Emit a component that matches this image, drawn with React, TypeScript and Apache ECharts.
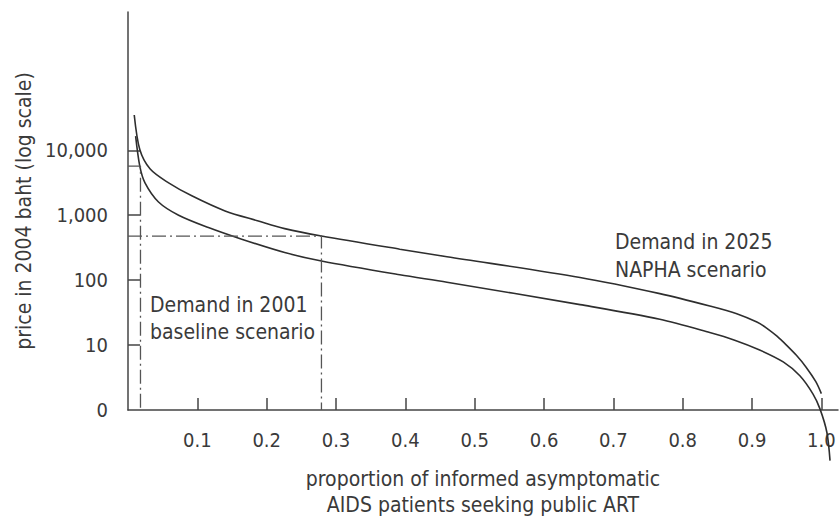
import React, { useEffect, useRef } from "react";
import * as echarts from "echarts";

// Proportion of informed asymptomatic AIDS patients seeking public ART
const napha2025X = [0.009, 0.017, 0.032, 0.058, 0.092, 0.14, 0.188, 0.226, 0.279, 0.392, 0.46, 0.652, 0.767, 0.839, 0.878, 0.907, 0.921, 0.936, 0.95, 0.964, 0.978, 0.992, 1.0];
// Price in 2004 baht
const napha2025Price = [35000, 10300, 5150, 3180, 1990, 1165, 815, 622, 478, 300, 230, 110, 62, 40, 30.5, 22.6, 18.3, 13.7, 9.9, 6.95, 4.57, 2.73, 1.79];

const baseline2001X = [0.011, 0.017, 0.0245, 0.044, 0.073, 0.116, 0.164, 0.226, 0.279, 0.392, 0.46, 0.652, 0.767, 0.839, 0.875, 0.911, 0.945, 0.969, 0.988, 0.998, 1.008, 1.0125];
const baseline2001Price = [16500, 5700, 3150, 1600, 1000, 645, 427, 266, 197, 121, 93, 42, 25, 15.6, 11.9, 8.4, 5.5, 3.37, 1.76, 1.04, 0.45, 0.166];

// Reference guides: price at a given proportion
const guideBaselineX = [0, 0.018, 0.018];
const guideBaselinePrice = [5700, 5700, 1];
const guideNaphaX = [0, 0.279, 0.279];
const guideNaphaPrice = [478, 478, 1];

const xTickValues = [0.1, 0.2, 0.3, 0.4, 0.5, 0.6, 0.7, 0.8, 0.9, 1.0];
const yLabelValues = [1, 10, 100, 1000, 10000];
const yTickValues = [10, 100, 1000, 10000];

const FONT = "'DejaVu Sans Condensed', 'Liberation Sans Narrow', sans-serif";
const TEXT = "#3a3a3a";
const INK = "#2e2e2e";

const zip = (xs: number[], ys: number[]) => xs.map((x, i) => [x, ys[i]]);

export default function App() {
  const ref = useRef<HTMLDivElement>(null);

  useEffect(() => {
    if (!ref.current) return;
    const chart = echarts.init(ref.current, null, { renderer: "svg" });
    const guideStyle = { color: "#555", width: 1.3, type: [14, 4, 2, 4] as number[] };
    chart.setOption({
      animation: false,
      backgroundColor: "#ffffff",
      textStyle: { fontFamily: FONT },
      grid: { left: 128, right: 2, top: 12, bottom: 112 },
      xAxis: {
        type: "value",
        min: 0,
        max: 1.024,
        name: "proportion of informed asymptomatic\nAIDS patients seeking public ART",
        nameLocation: "middle",
        nameGap: 56,
        nameTextStyle: { fontSize: 21, color: TEXT, lineHeight: 26, fontFamily: FONT },
        axisLine: { lineStyle: { color: "#444", width: 1.5 } },
        axisTick: { inside: true, length: 12, customValues: xTickValues, lineStyle: { color: "#444", width: 1.5 } },
        axisLabel: {
          customValues: xTickValues,
          margin: 20,
          fontSize: 20,
          color: TEXT,
          fontFamily: FONT,
          formatter: (v: number) => v.toFixed(1),
        },
        splitLine: { show: false },
      },
      yAxis: {
        type: "log",
        logBase: 10,
        min: 1,
        max: 1350000,
        name: "price in 2004 baht (log scale)",
        nameLocation: "middle",
        nameGap: 90,
        nameTextStyle: { fontSize: 21, color: TEXT, fontFamily: FONT },
        axisLine: { show: true, lineStyle: { color: "#444", width: 1.5 } },
        axisTick: { show: true, inside: true, length: 12, customValues: yTickValues, lineStyle: { color: "#444", width: 1.5 } },
        axisLabel: {
          customValues: yLabelValues,
          margin: 20,
          fontSize: 20,
          color: TEXT,
          fontFamily: FONT,
          formatter: (v: number) => {
            const r = Math.round(v);
            return r === 1 ? "0" : r.toLocaleString("en-US");
          },
        },
        splitLine: { show: false },
      },
      series: [
        {
          name: "Demand in 2025, NAPHA scenario",
          type: "line",
          data: zip(napha2025X, napha2025Price),
          smooth: 0.3,
          symbol: "none",
          clip: false,
          lineStyle: { color: INK, width: 1.6 },
        },
        {
          name: "Demand in 2001, baseline scenario",
          type: "line",
          data: zip(baseline2001X, baseline2001Price),
          smooth: 0.3,
          symbol: "none",
          clip: false,
          lineStyle: { color: INK, width: 1.6 },
        },
        {
          name: "baseline guide",
          type: "line",
          data: zip(guideBaselineX, guideBaselinePrice),
          symbol: "none",
          lineStyle: guideStyle,
        },
        {
          name: "NAPHA guide",
          type: "line",
          data: zip(guideNaphaX, guideNaphaPrice),
          symbol: "none",
          lineStyle: guideStyle,
        },
      ],
      graphic: [
        {
          type: "text",
          x: 150,
          y: 291,
          style: {
            text: "Demand in 2001\nbaseline scenario",
            fill: TEXT,
            fontSize: 21,
            lineHeight: 27,
            fontFamily: FONT,
          },
        },
        {
          type: "text",
          x: 615,
          y: 228,
          style: {
            text: "Demand in 2025\nNAPHA scenario",
            fill: TEXT,
            fontSize: 21,
            lineHeight: 28,
            fontFamily: FONT,
          },
        },
      ],
    });
    return () => chart.dispose();
  }, []);

  return (
    <div
      ref={ref}
      style={{ position: "absolute", left: 0, top: 0, width: 840, height: 523 }}
    />
  );
}
